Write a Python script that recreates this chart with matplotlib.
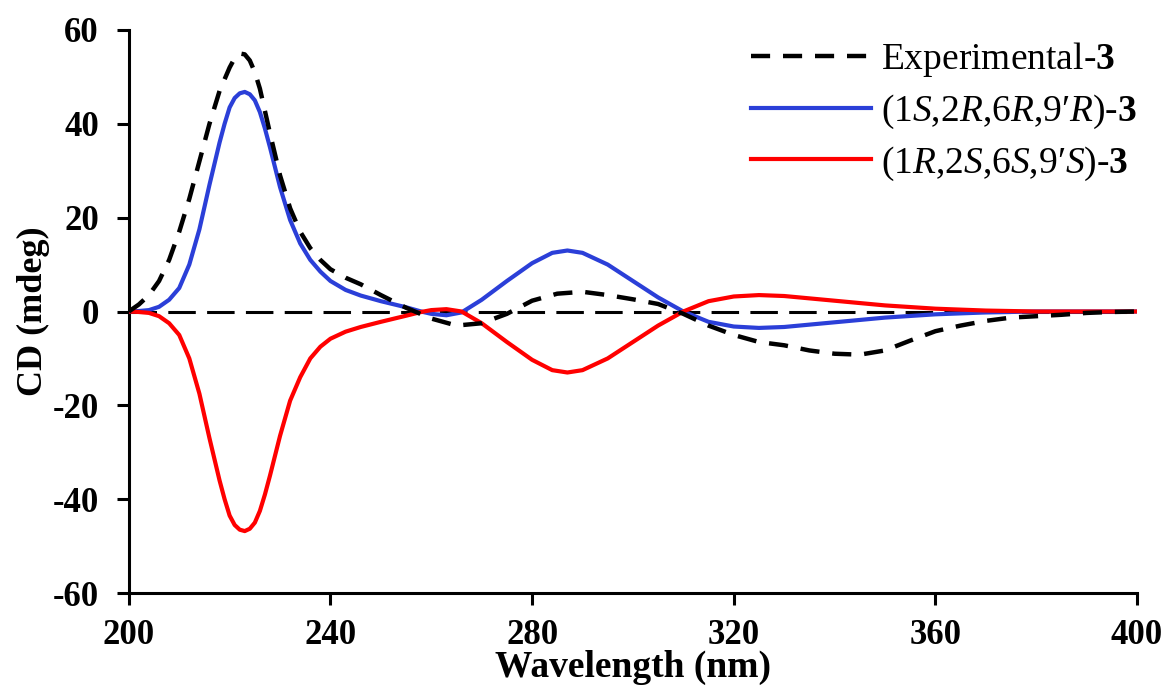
import matplotlib
matplotlib.use("Agg")
import matplotlib.pyplot as plt

# ---- data ----
wl_exp = [200, 202, 204, 206, 208, 210, 212, 214, 216, 218, 220, 221, 222, 223, 224, 225, 226, 228,
          230, 232, 234, 236, 238, 240, 243, 246, 250, 255, 260, 265, 270, 275, 280, 285, 290,
          295, 300, 305, 310, 315, 320, 325, 330, 335, 340, 345, 350, 355, 360, 365, 370, 375,
          380, 385, 390, 395, 400]
cd_exp = [0, 1.5, 3.5, 6.5, 11, 17, 24, 32, 40, 47, 52, 54, 55, 54.8, 53.5, 51, 47.5, 38,
          29, 22, 17, 13.5, 11, 9, 7.2, 5.8, 3.5, 0.8, -1.5, -3, -2.5, -0.5, 2.3, 3.8, 4.2,
          3.5, 2.6, 1.6, -0.5, -3, -5, -6.5, -7.2, -8.3, -9, -9.2, -8.3, -6.2, -4.2, -3, -2, -1.3,
          -1, -0.7, -0.3, -0.1, 0]

wl_calc = [200, 202, 204, 206, 208, 210, 212, 214, 216, 218, 219, 220, 221, 222, 223, 224, 225, 226,
           227, 228, 230, 232, 234, 236, 238, 240, 243, 246, 250, 255, 258, 260, 263, 266, 270,
           275, 280, 284, 287, 290, 295, 300, 305, 310, 315, 320, 325, 330, 340, 350, 360, 370,
           380, 390, 400]
cd_ssr = [0, 0.1, 0.3, 1, 2.5, 5, 10, 17.5, 27, 36, 40, 43.5, 45.5, 46.5, 46.8, 46.3, 45, 42.5,
          39, 35, 26.5, 19.5, 14.5, 11, 8.5, 6.5, 4.6, 3.4, 2.2, 0.9, 0, -0.5, -0.8, -0.2, 2.5,
          6.5, 10.3, 12.5, 13, 12.5, 10, 6.5, 3, 0, -2.2, -3.2, -3.5, -3.3, -2.3, -1.3, -0.6, -0.2,
          0, 0, 0]
cd_rss = [0, -0.1, -0.3, -1, -2.5, -5, -10, -17.5, -27, -36, -40, -43.5, -45.5, -46.5, -46.8, -46.3, -45, -42.5,
          -39, -35, -26.5, -19, -14, -10, -7.5, -5.8, -4.3, -3.3, -2.2, -0.9, -0.1, 0.3, 0.5, 0, -2.5,
          -6.5, -10.3, -12.5, -13, -12.5, -10, -6.5, -3, 0, 2.2, 3.2, 3.5, 3.3, 2.3, 1.3, 0.6, 0.2,
          0, 0, 0]

x_ticks = [200, 240, 280, 320, 360, 400]
y_ticks = [-60, -40, -20, 0, 20, 40, 60]

labels = [r"Experimental-$\mathbf{3}$",
          r"(1$\mathit{S}$,2$\mathit{R}$,6$\mathit{R}$,9′$\mathit{R}$)-$\mathbf{3}$",
          r"(1$\mathit{R}$,2$\mathit{S}$,6$\mathit{S}$,9′$\mathit{S}$)-$\mathbf{3}$"]

# ---- style ----
plt.rcParams["font.family"] = ["Liberation Serif", "DejaVu Serif"]
plt.rcParams["mathtext.fontset"] = "custom"
plt.rcParams["mathtext.rm"] = "Liberation Serif"
plt.rcParams["mathtext.it"] = "Liberation Serif:italic"
plt.rcParams["mathtext.bf"] = "Liberation Serif:bold"
plt.rcParams["axes.unicode_minus"] = False

fig = plt.figure(figsize=(11.71, 6.94), dpi=100)
ax = fig.add_axes([0.110, 0.1455, 0.861, 0.8113])

ax.axhline(0, color="black", lw=2.2, dashes=(9, 3.7), zorder=1)
ax.plot(wl_exp, cd_exp, color="black", lw=3.2, dashes=(4.3, 2.9), label=labels[0], zorder=4)
ax.plot(wl_calc, cd_ssr, color="#2b3fd8", lw=3, label=labels[1], zorder=3)
ax.plot(wl_calc, cd_rss, color="#ff0000", lw=3, label=labels[2], zorder=3)

ax.set_xlim(200, 400)
ax.set_ylim(-60, 60)
ax.set_xticks(x_ticks)
ax.set_yticks(y_ticks)
for s in ["top", "right"]:
    ax.spines[s].set_visible(False)
for s in ["left", "bottom"]:
    ax.spines[s].set_linewidth(2.2)
ax.tick_params(direction="out", length=8.5, width=2.2, labelsize=25)
ax.tick_params(axis="x", pad=10)
ax.tick_params(axis="y", pad=13)
for t in ax.get_xticklabels() + ax.get_yticklabels():
    t.set_fontweight("bold")

ax.set_xlabel("Wavelength (nm)", fontsize=27, fontweight="bold", labelpad=-1)
ax.set_ylabel("CD (mdeg)", fontsize=26, fontweight="bold", labelpad=2)

leg = ax.legend(loc="upper right", bbox_to_anchor=(1.0, 0.982), frameon=False,
                fontsize=27, handlelength=3.2, handletextpad=0.27, labelspacing=0.36,
                borderaxespad=0.0, borderpad=0.0)

fig.savefig("out.png", dpi=100)
